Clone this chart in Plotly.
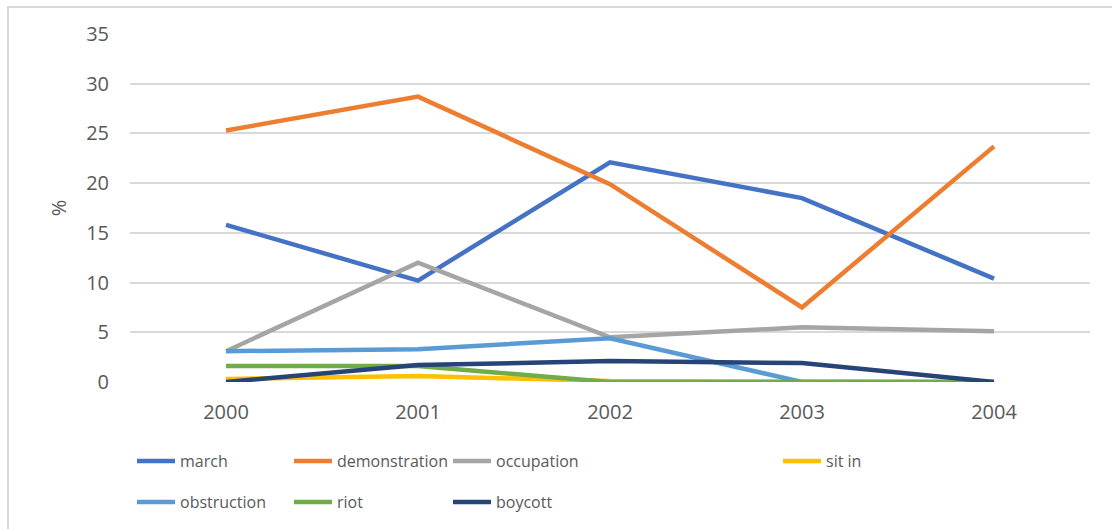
import plotly.graph_objects as go

years = ["2000", "2001", "2002", "2003", "2004"]

march = [15.8, 10.2, 22.1, 18.5, 10.4]
demonstration = [25.3, 28.7, 19.9, 7.5, 23.7]
occupation = [3.1, 12.0, 4.5, 5.5, 5.1]
sit_in = [0.3, 0.6, 0.1, 0.0, 0.0]
obstruction = [3.1, 3.3, 4.4, 0.0, 0.0]
riot = [1.6, 1.6, 0.0, 0.0, 0.0]
boycott = [0.0, 1.7, 2.1, 1.9, 0.0]

series = [
    ("march", march, "#4472C4"),
    ("demonstration", demonstration, "#ED7D31"),
    ("occupation", occupation, "#A5A5A5"),
    ("sit in", sit_in, "#FFC000"),
    ("obstruction", obstruction, "#5B9BD5"),
    ("riot", riot, "#70AD47"),
    ("boycott", boycott, "#264478"),
]

W, H = 1112, 529
L, R, T, B = 130, 22, 34, 146
pw, ph = W - L - R, H - T - B


def px_x(x):
    return (x - L) / pw


def px_y(y):
    return (H - B - y) / ph


# legend entry anchors (left edge of line sample, vertical centre)
legend_pos = [(136, 461), (293, 461), (452, 461), (782, 461),
              (136, 502), (293, 502), (452, 502)]

fig = go.Figure()
legend_layouts = {}
for i, (name, vals, color) in enumerate(series):
    lname = "legend" if i == 0 else f"legend{i + 1}"
    fig.add_trace(go.Scatter(
        x=years, y=vals, name=name, mode="lines",
        line=dict(color=color, width=4.5),
        legend=lname,
    ))
    lx, ly = legend_pos[i]
    legend_layouts[lname] = dict(
        x=px_x(lx - 4), y=px_y(ly), xanchor="left", yanchor="middle",
        orientation="h", bgcolor="rgba(0,0,0,0)", borderwidth=0,
        font=dict(family="Open Sans", size=16, color="#595959"),
        itemwidth=38, tracegroupgap=0,
    )

fig.update_layout(
    width=W, height=H,
    margin=dict(l=L, r=R, t=T, b=B),
    paper_bgcolor="white", plot_bgcolor="white",
    showlegend=True,
    font=dict(family="Open Sans", color="#595959"),
    xaxis=dict(
        type="category", range=[-0.5, 4.5], showgrid=False, showline=False,
        zeroline=False, ticks="", tickfont=dict(size=20, color="#595959"),
        ticklabelstandoff=16,
    ),
    yaxis=dict(
        range=[0, 35], dtick=5, showgrid=True, gridcolor="#D9D9D9",
        gridwidth=1.5, zeroline=False, showline=False, ticks="",
        tickfont=dict(size=20, color="#595959"), ticklabelstandoff=20,
        title=dict(text="%", font=dict(size=20, color="#595959"), standoff=14),
    ),
    shapes=[dict(
        type="rect", xref="paper", yref="paper",
        x0=px_x(8), x1=px_x(1140), y0=px_y(560), y1=px_y(7),
        line=dict(color="#D9D9D9", width=2), fillcolor="rgba(0,0,0,0)",
        layer="below",
    )],
    **legend_layouts,
)

fig.write_html("out.html")
